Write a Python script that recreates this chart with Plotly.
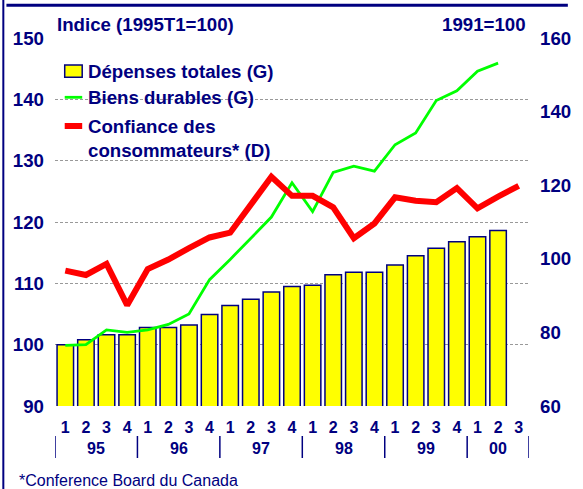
import plotly.graph_objects as go

# ---- data ----
quarters = ["1", "2", "3", "4"] * 5 + ["1", "2", "3"]
years = ["95", "96", "97", "98", "99", "00"]
depenses = [100.0, 100.8, 101.6, 101.6, 102.8, 102.8, 103.2, 104.9, 106.4, 107.4, 108.6,
            109.5, 109.7, 111.4, 111.8, 111.8, 113.0, 114.5, 115.7, 116.8, 117.6, 118.6]
durables = [99.9, 100.0, 102.4, 102.0, 102.4, 103.3, 105.0, 110.6, 113.9, 117.4, 120.8,
            126.4, 121.7, 128.1, 129.1, 128.3, 132.6, 134.5, 139.8, 141.4, 144.6, 145.9]
confiance = [96.8, 95.6, 98.6, 87.4, 97.2, 99.8, 102.9, 105.8, 107.1, 114.9, 122.3, 117.1,
             117.1, 114.0, 105.6, 109.6, 116.7, 115.8, 115.4, 119.2, 113.7, 116.9, 119.8]
left_ticks = [90, 100, 110, 120, 130, 140, 150]
right_ticks = [60, 80, 100, 120, 140, 160]

names = ["Dépenses totales (G)", "Biens durables (G)", "Confiance des<br>consommateurs* (D)"]
title_left = "Indice (1995T1=100)"
title_right = "1991=100"
footnote = "*Conference Board du Canada"

NAVY = "#000080"
FONT = "Liberation Sans, Arial, sans-serif"

W, H = 583, 489
L, R, T, B = 55, 543, 38, 406


def px(x):
    return (x - L) / (R - L)


def py(y):
    return (B - y) / (B - T)


xs = list(range(len(quarters)))

fig = go.Figure()
fig.add_trace(go.Bar(
    x=xs[:len(depenses)], y=depenses, name="Dépenses totales (G)",
    marker=dict(color="#FFFF00", line=dict(color=NAVY, width=1.5)),
))
fig.add_trace(go.Scatter(
    x=xs[:len(durables)], y=durables, mode="lines", name="Biens durables (G)",
    line=dict(color="#00FF00", width=2.8),
))
fig.add_trace(go.Scatter(
    x=xs[:len(confiance)], y=confiance, mode="lines", yaxis="y2",
    name="Confiance des consommateurs* (D)",
    line=dict(color="#FF0000", width=6),
))

shapes = []
annotations = []

# frame lines
shapes.append(dict(type="line", xref="paper", yref="paper", x0=px(5), x1=px(583),
                   y0=py(5.3), y1=py(5.3), line=dict(color=NAVY, width=3)))
shapes.append(dict(type="line", xref="paper", yref="paper", x0=px(1.8), x1=px(1.8),
                   y0=py(0), y1=py(489), line=dict(color=NAVY, width=2)))

# year separators and labels
starts = [i for i, q in enumerate(quarters) if q == "1"]
bounds = [s - 0.5 for s in starts] + [len(quarters) - 0.5]
for b in bounds:
    shapes.append(dict(type="line", xref="x", yref="paper", x0=b, x1=b,
                       y0=py(436), y1=py(458), line=dict(color=NAVY, width=1.5)))
for k, yr in enumerate(years):
    annotations.append(dict(x=(bounds[k] + bounds[k + 1]) / 2, y=py(448), xref="x", yref="paper",
                            text=yr, showarrow=False, xanchor="center", yanchor="middle",
                            font=dict(size=16, color=NAVY, family=FONT, weight="bold")))

# custom legend
shapes.append(dict(type="rect", xref="paper", yref="paper", x0=px(65), x1=px(83),
                   y0=py(77.3), y1=py(65), fillcolor="#FFFF00", line=dict(color=NAVY, width=1.5)))
shapes.append(dict(type="line", xref="paper", yref="paper", x0=px(65), x1=px(83),
                   y0=py(97.3), y1=py(97.3), line=dict(color="#00FF00", width=2.8)))
shapes.append(dict(type="line", xref="paper", yref="paper", x0=px(65), x1=px(83),
                   y0=py(126), y1=py(126), line=dict(color="#FF0000", width=6)))
leg_y = [71, 97.5, 138]
for n, yy in zip(names, leg_y):
    annotations.append(dict(x=px(87), y=py(yy), xref="paper", yref="paper", text=n,
                            showarrow=False, xanchor="left", yanchor="middle", align="left",
                            font=dict(size=18.67, color=NAVY, family=FONT, weight="bold")))

# axis titles and footnote
annotations.append(dict(x=px(55), y=py(24.5), xref="paper", yref="paper", text=title_left,
                        showarrow=False, xanchor="left", yanchor="middle",
                        font=dict(size=18.67, color=NAVY, family=FONT, weight="bold")))
annotations.append(dict(x=px(542), y=py(24.5), xref="paper", yref="paper", text=title_right,
                        showarrow=False, xanchor="right", yanchor="middle",
                        font=dict(size=18.67, color=NAVY, family=FONT, weight="bold")))
annotations.append(dict(x=px(16), y=py(480), xref="paper", yref="paper", text=footnote,
                        showarrow=False, xanchor="left", yanchor="middle",
                        font=dict(size=16, color=NAVY, family=FONT)))

fig.update_layout(
    width=W, height=H,
    margin=dict(l=L, r=W - R, t=T, b=H - B, pad=0),
    paper_bgcolor="white", plot_bgcolor="white",
    showlegend=False, bargap=0.2,
    font=dict(family=FONT, color=NAVY),
    shapes=shapes, annotations=annotations,
    xaxis=dict(range=[-0.5, len(quarters) - 0.5], tickmode="array", tickvals=xs, ticktext=quarters,
               showgrid=False, zeroline=False, showline=False, ticks="", ticklabelstandoff=10,
               tickfont=dict(size=16, color=NAVY, family=FONT, weight="bold")),
    yaxis=dict(range=[90, 150], tickmode="array", tickvals=left_ticks, showgrid=True,
               gridcolor="#999999", griddash="3px,2px", gridwidth=1, zeroline=False,
               showline=False, ticks="", ticklabelstandoff=10,
               tickfont=dict(size=18.67, color=NAVY, family=FONT, weight="bold")),
    yaxis2=dict(range=[60, 160], tickmode="array", tickvals=right_ticks, overlaying="y",
                side="right", showgrid=False, zeroline=False, showline=False, ticks="",
                ticklabelstandoff=10,
                tickfont=dict(size=18.67, color=NAVY, family=FONT, weight="bold")),
)

fig.write_html("out.html", config={"displayModeBar": False, "staticPlot": True},
               post_script="document.body.style.margin='0';document.body.style.overflow='hidden';")
